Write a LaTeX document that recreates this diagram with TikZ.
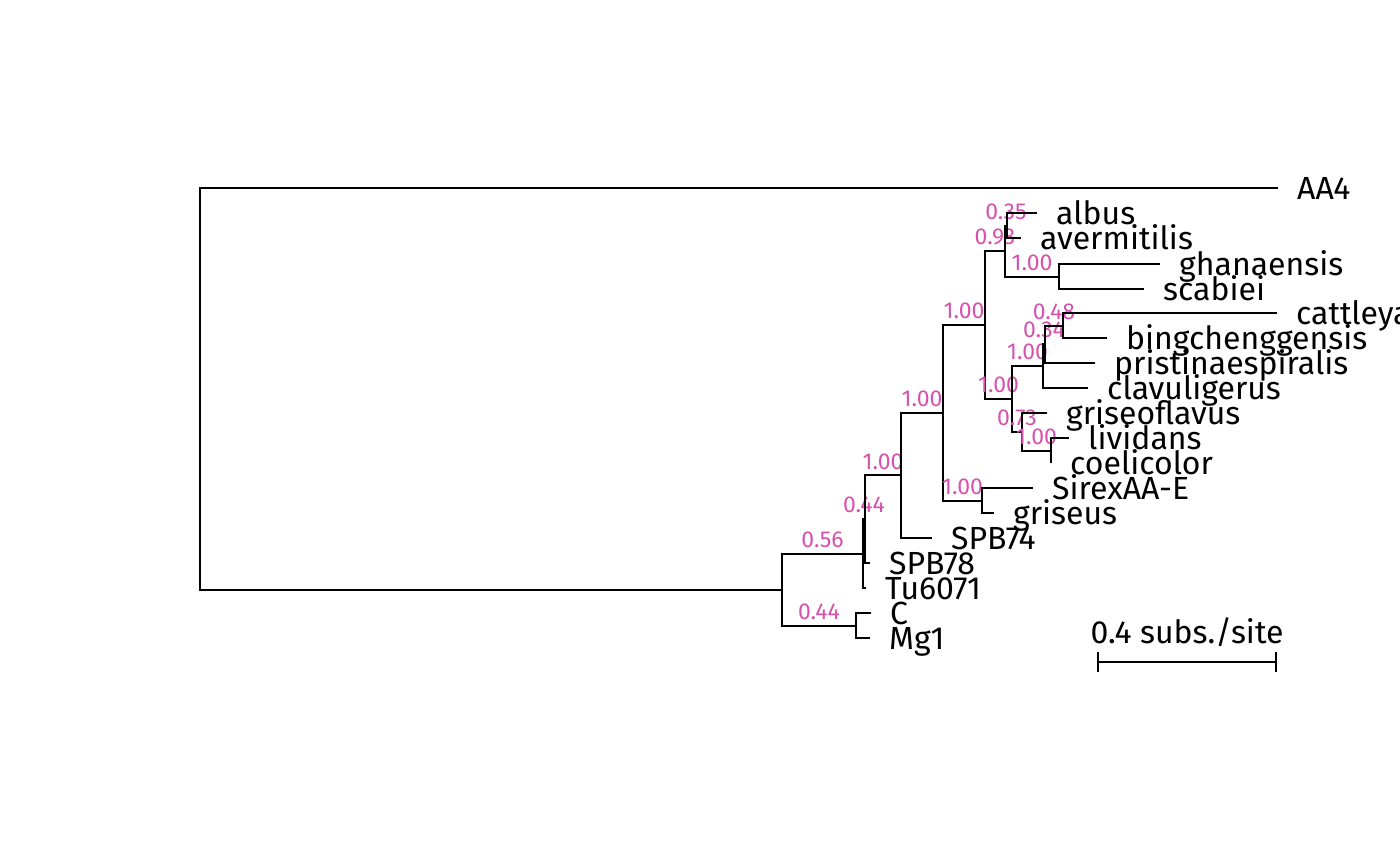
\documentclass[tikz,border=0pt]{standalone}
\usepackage{fontspec}
\setmainfont{Fira Sans}
\definecolor{supcol}{RGB}{214,82,172}
\begin{document}
\begin{tikzpicture}[x=1pt, y=-1pt,
    branch/.style={line width=2pt, draw=black},
    supp/.style={pos=0.75, above=5pt, inner sep=0pt, text=supcol, font=\fontsize{23}{23}\selectfont},
    tip/.style={anchor=base west, inner sep=0pt, xshift=19pt, yshift=-11pt, font=\fontsize{32}{32}\selectfont},
    scalebar/.style={line width=2pt}
]
\useasboundingbox (0,0) rectangle (1400,865);

% tips
\coordinate (tAA4) at (1278,188);
\coordinate (talbus) at (1037,213);
\coordinate (taverm) at (1021,238);
\coordinate (tghana) at (1160,264);
\coordinate (tscab) at (1144,289);
\coordinate (tcatt) at (1277,313);
\coordinate (tbing) at (1107,338);
\coordinate (tprist) at (1095,363);
\coordinate (tclav) at (1088,388);
\coordinate (tgrfl) at (1047,413);
\coordinate (tlivid) at (1069,438);
\coordinate (tcoel) at (1051,463);
\coordinate (tsirex) at (1033,488);
\coordinate (tgris) at (994,513);
\coordinate (tSPB74) at (932,538);
\coordinate (tSPB78) at (870,563);
\coordinate (tTu) at (866,588);
\coordinate (tC) at (871,613);
\coordinate (tMg) at (870,638);

% internal nodes
\coordinate (root) at (200,388.8);
\coordinate (nIn) at (782,589.6);
\coordinate (nA) at (863,553.6);
\coordinate (nB) at (865,519.2);
\coordinate (nC) at (901,475.4);
\coordinate (nD) at (943,412.8);
\coordinate (nE) at (985,325);
\coordinate (nG) at (1005,251);
\coordinate (nI) at (1007,225.5);
\coordinate (nJ) at (1059,276.5);
\coordinate (nH) at (1012,399);
\coordinate (nK) at (1043,366.1);
\coordinate (nM) at (1045,344.2);
\coordinate (nN) at (1063,325.5);
\coordinate (nL) at (1022,431.8);
\coordinate (nO) at (1051,450.5);
\coordinate (nF) at (982,500.5);
\coordinate (nCM) at (856,625.5);

\node[tip] (lAA4) at (tAA4) {AA4};
\node[tip] (lalbus) at (talbus) {albus};
\node[tip] (laverm) at (taverm) {avermitilis};
\node[tip] (lghana) at (tghana) {ghanaensis};
\node[tip] (lscab) at (tscab) {scabiei};
\node[tip] (lcatt) at (tcatt) {cattleya};
\node[tip] (lbing) at (tbing) {bingchenggensis};
\node[tip] (lprist) at (tprist) {pristinaespiralis};
\node[tip] (lclav) at (tclav) {clavuligerus};
\node[tip] (lgrfl) at (tgrfl) {griseoflavus};
\node[tip] (llivid) at (tlivid) {lividans};
\node[tip] (lcoel) at (tcoel) {coelicolor};
\node[tip] (lsirex) at (tsirex) {SirexAA-E};
\node[tip] (lgris) at (tgris) {griseus};
\node[tip] (lSPB74) at (tSPB74) {SPB74};
\node[tip] (lSPB78) at (tSPB78) {SPB78};
\node[tip] (lTu) at (tTu) {Tu6071};
\node[tip] (lC) at (tC) {C};
\node[tip] (lMg) at (tMg) {Mg1};

\draw[branch] (root) |- (tAA4);
\draw[branch] (root) |- (nIn);
\draw[branch] (nIn) |- node[supp] {0.56} (nA);
\draw[branch] (nIn) |- node[supp] {0.44} (nCM);
\draw[branch] (nCM) |- (tC);
\draw[branch] (nCM) |- (tMg);
\draw[branch] (nA) |- node[supp] {0.44} (nB);
\draw[branch] (nA) |- (tTu);
\draw[branch] (nB) |- node[supp] {1.00} (nC);
\draw[branch] (nB) |- (tSPB78);
\draw[branch] (nC) |- node[supp] {1.00} (nD);
\draw[branch] (nC) |- (tSPB74);
\draw[branch] (nD) |- node[supp] {1.00} (nE);
\draw[branch] (nD) |- node[supp] {1.00} (nF);
\draw[branch] (nF) |- (tsirex);
\draw[branch] (nF) |- (tgris);
\draw[branch] (nE) |- node[supp] {0.93} (nG);
\draw[branch] (nE) |- node[supp] {1.00} (nH);
\draw[branch] (nG) |- node[supp] {0.35} (nI);
\draw[branch] (nG) |- node[supp] {1.00} (nJ);
\draw[branch] (nI) |- (talbus);
\draw[branch] (nI) |- (taverm);
\draw[branch] (nJ) |- (tghana);
\draw[branch] (nJ) |- (tscab);
\draw[branch] (nH) |- node[supp] {1.00} (nK);
\draw[branch] (nH) |- node[supp] {0.73} (nL);
\draw[branch] (nK) |- node[supp] {0.34} (nM);
\draw[branch] (nK) |- (tclav);
\draw[branch] (nM) |- node[supp] {0.48} (nN);
\draw[branch] (nM) |- (tprist);
\draw[branch] (nN) |- (tcatt);
\draw[branch] (nN) |- (tbing);
\draw[branch] (nL) |- (tgrfl);
\draw[branch] (nL) |- node[supp] {1.00} (nO);
\draw[branch] (nO) |- (tlivid);
\draw[branch] (nO) |- (tcoel);

% scale bar
\coordinate (sbL) at (1098,662);
\coordinate (sbR) at (1276,662);
\draw[scalebar] (sbL) -- (sbR);
\draw[scalebar] ([yshift=10pt]sbL) -- ([yshift=-10pt]sbL);
\draw[scalebar] ([yshift=10pt]sbR) -- ([yshift=-10pt]sbR);
\node[anchor=base, inner sep=0pt, font=\fontsize{32}{32}\selectfont] (sblab) at (1187,643) {0.4 subs./site};
\end{tikzpicture}
\end{document}
